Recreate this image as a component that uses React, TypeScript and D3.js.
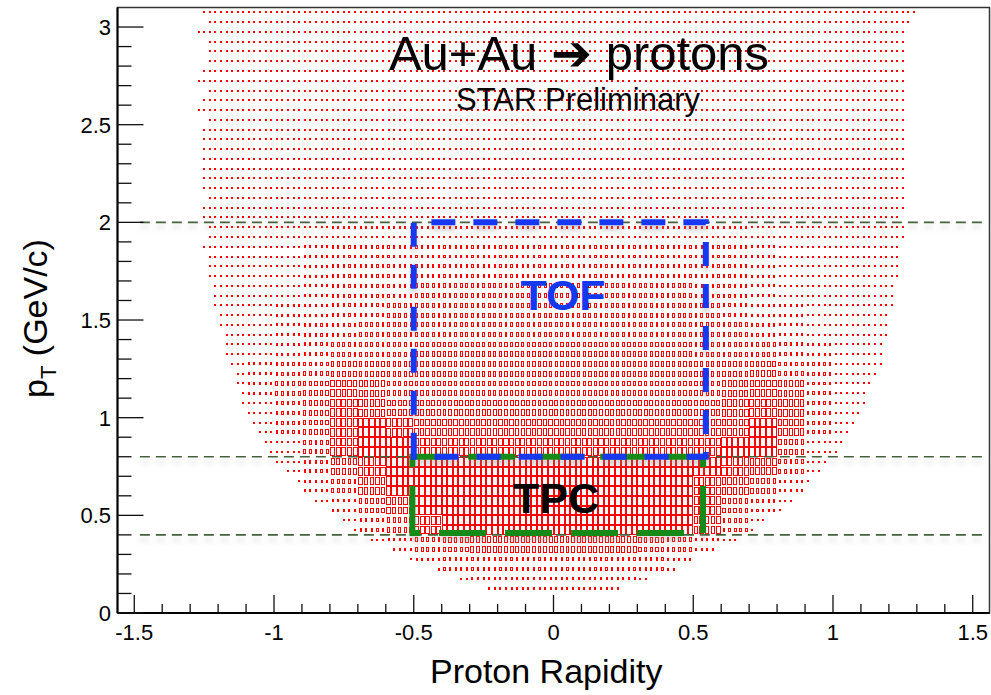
import React from 'react';
import * as d3 from 'd3';

const W = 991;
const H = 695;

// Axes
const X_DOMAIN: [number, number] = [-1.56, 1.56];
const Y_DOMAIN: [number, number] = [0, 3.1];
const X_MAJOR = [-1.5, -1, -0.5, 0, 0.5, 1, 1.5];
const X_LABELS = ['-1.5', '-1', '-0.5', '0', '0.5', '1', '1.5'];
const Y_MAJOR = [0, 0.5, 1, 1.5, 2, 2.5, 3];
const Y_LABELS = ['0', '0.5', '1', '1.5', '2', '2.5', '3'];

// Histogram binning (rapidity 0.02, pT 0.05)
const BIN_W = 0.02;
const BIN_H = 0.05;
const FIRST_ROW_PT = 0.125;
const FIRST_BIN_CENTER = -1.55;

// Acceptance edges per pT row (bottom row pT=0.125 to top row pT=3.075)
const LEFT_EDGE = [
  -0.23, -0.33, -0.42, -0.52, -0.58, -0.65, -0.71, -0.75, -0.79, -0.85,
  -0.89, -0.91, -0.95, -0.99, -1.01, -1.03, -1.05, -1.07, -1.09, -1.11,
  -1.11, -1.13, -1.13, -1.15, -1.17, -1.17, -1.17, -1.19, -1.19, -1.21,
  -1.21, -1.21, -1.23, -1.23, -1.23, -1.25, -1.23, -1.23, -1.25, -1.25,
  -1.23, -1.25, -1.25, -1.25, -1.25, -1.25, -1.25, -1.25, -1.23, -1.27,
  -1.25, -1.23, -1.27, -1.25, -1.23, -1.23, -1.23, -1.27, -1.23, -1.25,
];
const RIGHT_EDGE = [
  0.23, 0.33, 0.42, 0.49, 0.58, 0.65, 0.71, 0.75, 0.81, 0.85,
  0.89, 0.91, 0.95, 0.97, 1.01, 1.03, 1.05, 1.07, 1.09, 1.11,
  1.11, 1.13, 1.15, 1.17, 1.17, 1.17, 1.19, 1.19, 1.19, 1.21,
  1.21, 1.21, 1.23, 1.23, 1.23, 1.23, 1.25, 1.25, 1.23, 1.25,
  1.25, 1.25, 1.25, 1.25, 1.25, 1.25, 1.25, 1.25, 1.25, 1.25,
  1.25, 1.25, 1.25, 1.25, 1.25, 1.25, 1.25, 1.25, 1.27, 1.29,
];

// Box size level (1..10 -> fraction of cell), pT bands of 0.1 from 3.0-3.1 (top) down to 0.1-0.2,
// rapidity columns of 0.1 from -1.3 to 1.3 (written as 3+5+5 | 5+5+3)
const LEVEL_ROWS = [
  '222 22222 22222|22222 22222 222', // 3.0-3.1
  '222 22222 22222|22222 22222 222',
  '222 22222 22222|22222 22222 222',
  '222 22222 22222|22222 22222 222',
  '222 22222 22222|22222 22222 222',
  '222 22222 22222|22222 22222 222', // 2.5-2.6
  '222 22222 22222|22222 22222 222',
  '222 22222 22222|22222 22222 222',
  '222 22222 22222|22222 22222 222',
  '222 22222 22222|22222 22222 222',
  '222 22222 22222|22222 22222 222', // 2.0-2.1
  '222 22333 33333|33333 33222 222', // 1.9-2.0
  '222 23444 44444|44444 44322 222',
  '222 23444 44444|44444 44322 222',
  '222 23444 55555|55555 44322 222',
  '222 33445 55555|55555 54332 222', // 1.5-1.6
  '222 34455 55555|55555 55432 222',
  '222 34555 66666|66666 55543 222',
  '223 45666 66666|66666 66754 222',
  '223 56876 66666|66666 67874 222',
  '222 46987 77777|77777 78984 222', // 1.0-1.1
  '222 469a9 88888|88888 88a84 222',
  '222 259aa 99999|99999 9aa62 222',
  '222 2479a aaaaa|aaaaa a9852 222',
  '222 2358a aaaaa|aaaaa 98632 222',
  '222 22368 aaaaa|aaaaa 96422 222', // 0.5-0.6
  '222 22246 9aaaa|aaaaa 85222 222',
  '222 22223 56777|77765 32222 222',
  '222 22222 34444|44443 22222 222',
  '222 22222 22333|33322 22222 222', // 0.1-0.2
];

// Cut lines and selection boxes
const CUT_LINES = [2.0, 0.8, 0.4];
const CUT_RANGE: [number, number] = [-1.48, 1.545];
const TOF_BOX = { y0: -0.5, y1: 0.545, pt0: 0.8, pt1: 2.0 };
const TPC_BOX = { y0: -0.505, y1: 0.535, pt0: 0.41, pt1: 0.8 };

const FONT = "'Liberation Sans', Arial, Helvetica, sans-serif";

export default function App() {
  const x = d3.scaleLinear().domain(X_DOMAIN).range([117.5, 989.5]);
  const y = d3.scaleLinear().domain(Y_DOMAIN).range([613, 7.5]);
  const cw = x(BIN_W) - x(0);
  const ch = y(0) - y(BIN_H);

  const grid = LEVEL_ROWS.map((s) => s.replace(/[ |]/g, ''));

  const boxes: { x: number; y: number; w: number; h: number; fill: boolean }[] = [];
  LEFT_EDGE.forEach((le, k) => {
    const pt = FIRST_ROW_PT + BIN_H * k;
    const jL = Math.round((le - FIRST_BIN_CENTER) / BIN_W);
    const jR = Math.round((RIGHT_EDGE[k] - FIRST_BIN_CENTER) / BIN_W);
    const r = Math.min(grid.length - 1, Math.floor((Y_DOMAIN[1] - pt) / 0.1 + 1e-9));
    for (let j = jL; j <= jR; j++) {
      const rap = FIRST_BIN_CENTER + BIN_W * j;
      const c = Math.max(0, Math.min(25, Math.floor((rap + 1.3) / 0.1 + 1e-9)));
      const ch36 = grid[r][c] || '2';
      const f = parseInt(ch36, 36) / 10;
      const cx = x(rap);
      const cy = y(pt);
      const w = cw * f;
      const h = ch * f;
      let x0 = Math.round(cx - w / 2);
      let x1 = Math.round(cx + w / 2);
      let y0 = Math.round(cy - h / 2);
      let y1 = Math.round(cy + h / 2);
      if (x1 - x0 < 2) { x0 = Math.round(cx - 1); x1 = x0 + 2; }
      if (y1 - y0 < 2) { y0 = Math.round(cy - 1); y1 = y0 + 2; }
      const fill = x1 - x0 <= 2 || y1 - y0 <= 2;
      boxes.push({ x: x0, y: y0, w: x1 - x0, h: y1 - y0, fill });
    }
  });

  const xMinor = d3.range(-15, 16).map((i) => i / 10).filter((v) => Math.abs(v * 2 - Math.round(v * 2)) > 1e-6);
  const yMinor = d3.range(0, 31).map((i) => i / 10).filter((v) => Math.abs(v * 2 - Math.round(v * 2)) > 1e-6);

  const boxPath = (b: { y0: number; y1: number; pt0: number; pt1: number }) =>
    `M${x(b.y0)},${y(b.pt0)}L${x(b.y0)},${y(b.pt1)}L${x(b.y1)},${y(b.pt1)}L${x(b.y1)},${y(b.pt0)}Z`;

  return (
    <div style={{ position: 'absolute', left: 0, top: 0, width: W, height: H, background: '#fff' }}>
      <svg width={W} height={H} viewBox={`0 0 ${W} ${H}`} style={{ display: 'block' }}>
        <defs>
          <filter id="shadow" x="-5%" y="-50%" width="110%" height="300%">
            <feDropShadow dx="0" dy="5" stdDeviation="2.5" floodColor="#888" floodOpacity="0.35" />
          </filter>
        </defs>
        <rect x={0} y={0} width={W} height={H} fill="#fff" />

        {/* histogram boxes */}
        <g shapeRendering="crispEdges">
          {boxes.map((b, i) =>
            b.fill ? (
              <rect key={i} x={b.x} y={b.y} width={b.w} height={b.h} fill="#ff0000" />
            ) : (
              <rect key={i} x={b.x + 0.5} y={b.y + 0.5} width={b.w - 1} height={b.h - 1}
                fill="none" stroke="#ff0000" strokeWidth={1} />
            )
          )}
        </g>

        {/* cut lines */}
        <g filter="url(#shadow)">
          {CUT_LINES.map((v) => (
            <line key={v} x1={x(CUT_RANGE[0])} x2={x(CUT_RANGE[1])} y1={y(v)} y2={y(v)}
              stroke="#44603a" strokeWidth={1.6} strokeDasharray="10 6" />
          ))}
        </g>

        {/* selection boxes */}
        <g filter="url(#shadow)">
          <path d={boxPath(TPC_BOX)} fill="none" stroke="#138a13" strokeWidth={6} strokeDasharray="47 19" />
          <path d={boxPath(TOF_BOX)} fill="none" stroke="#1238f0" strokeWidth={6} strokeDasharray="24 18" />
        </g>

        {/* frame */}
        <rect x={x(X_DOMAIN[0])} y={y(Y_DOMAIN[1])} width={x(X_DOMAIN[1]) - x(X_DOMAIN[0])}
          height={y(Y_DOMAIN[0]) - y(Y_DOMAIN[1])} fill="none" stroke="#333" strokeWidth={1.5} />
        <line x1={x(X_DOMAIN[0])} x2={x(X_DOMAIN[1])} y1={y(0)} y2={y(0)} stroke="#000" strokeWidth={2} />
        <line x1={x(X_DOMAIN[0])} x2={x(X_DOMAIN[0])} y1={y(0)} y2={y(Y_DOMAIN[1])} stroke="#000" strokeWidth={2} />

        {/* ticks */}
        <g stroke="#111" strokeWidth={1.3}>
          {X_MAJOR.map((v) => (
            <line key={'xm' + v} x1={x(v)} x2={x(v)} y1={y(0)} y2={y(0) - 18} />
          ))}
          {xMinor.map((v) => (
            <line key={'xn' + v} x1={x(v)} x2={x(v)} y1={y(0)} y2={y(0) - 9} />
          ))}
          {Y_MAJOR.map((v) => (
            <line key={'ym' + v} x1={x(X_DOMAIN[0])} x2={x(X_DOMAIN[0]) + 26} y1={y(v)} y2={y(v)} />
          ))}
          {yMinor.map((v) => (
            <line key={'yn' + v} x1={x(X_DOMAIN[0])} x2={x(X_DOMAIN[0]) + 14} y1={y(v)} y2={y(v)} />
          ))}
        </g>

        <g fontFamily={FONT} fontSize={22} fill="#000">
          {X_MAJOR.map((v, i) => (
            <text key={'xl' + v} x={x(v)} y={640} textAnchor="middle">{X_LABELS[i]}</text>
          ))}
          {Y_MAJOR.map((v, i) => (
            <text key={'yl' + v} x={111} y={y(v) + 8} textAnchor="end">{Y_LABELS[i]}</text>
          ))}
        </g>

        {/* axis titles */}
        <text x={430} y={683} fontFamily={FONT} fontSize={34} fill="#000">Proton Rapidity</text>
        <text transform="translate(47,398) rotate(-90)" fontFamily={FONT} fontSize={34} fill="#000">
          p<tspan fontSize={22} dy={9}>T</tspan><tspan dy={-9}> (GeV/c)</tspan>
        </text>

        {/* titles */}
        <text x={579} y={70} textAnchor="middle" fontFamily={FONT} fontSize={49} fill="#000">
          Au+Au <tspan fontWeight="bold" fontFamily="'DejaVu Sans', sans-serif">➔</tspan> protons
        </text>
        <text x={578} y={110} textAnchor="middle" fontFamily={FONT} fontSize={31} fill="#000">STAR Preliminary</text>

        <text x={563} y={310} textAnchor="middle" fontFamily={FONT} fontWeight="bold" fontSize={43} fill="#1238f0">TOF</text>
        <text x={556} y={513} textAnchor="middle" fontFamily={FONT} fontWeight="bold" fontSize={43} fill="#000">TPC</text>
      </svg>
    </div>
  );
}
